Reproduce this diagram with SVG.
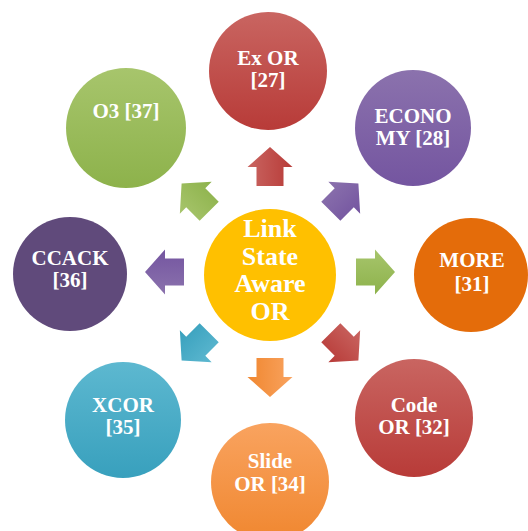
<svg xmlns="http://www.w3.org/2000/svg" width="528" height="531" viewBox="0 0 528 531">
  <defs>
    <linearGradient id="gRed" x1="0" y1="0" x2="0" y2="1">
      <stop offset="0" stop-color="#c96561"/>
      <stop offset="1" stop-color="#b83b38"/>
    </linearGradient>
    <linearGradient id="gPurple" x1="0" y1="0" x2="0" y2="1">
      <stop offset="0" stop-color="#8b72ad"/>
      <stop offset="1" stop-color="#7455a0"/>
    </linearGradient>
    <linearGradient id="gGreen" x1="0" y1="0" x2="0" y2="1">
      <stop offset="0" stop-color="#a7c56c"/>
      <stop offset="1" stop-color="#8db24b"/>
    </linearGradient>
    <linearGradient id="gOrange" x1="0" y1="0" x2="0" y2="1">
      <stop offset="0" stop-color="#f9a35f"/>
      <stop offset="1" stop-color="#f08730"/>
    </linearGradient>
    <linearGradient id="gBlue" x1="0" y1="0" x2="0" y2="1">
      <stop offset="0" stop-color="#5db8d0"/>
      <stop offset="1" stop-color="#38a0bd"/>
    </linearGradient>
    <!-- block arrow pointing along +x, offset from the hub -->
    <path id="arw" d="M86,-13.5 L105,-13.5 L105,-22.5 L125,0 L105,22.5 L105,13.5 L86,13.5 Z"/>
    <style>
      .lbl { font-family: "Liberation Serif", "Times New Roman", serif; font-weight: bold; fill: #ffffff; text-anchor: middle; }
      .sm { font-size: 21px; }
      .big { font-size: 26px; }
    </style>
  </defs>

  <rect width="528" height="531" fill="#ffffff"/>

  <!-- connectors: block arrows radiating from the hub -->
  <g id="connectors" transform="translate(270,272)">
    <g transform="rotate(-90)"><use href="#arw" fill="url(#gRed)"/></g>
    <g transform="rotate(-45)"><use href="#arw" fill="url(#gPurple)"/></g>
    <g transform="rotate(0)"><use href="#arw" fill="url(#gGreen)"/></g>
    <g transform="rotate(45)"><use href="#arw" fill="url(#gRed)"/></g>
    <g transform="rotate(90)"><use href="#arw" fill="url(#gOrange)"/></g>
    <g transform="rotate(135)"><use href="#arw" fill="url(#gBlue)"/></g>
    <g transform="rotate(180)"><use href="#arw" fill="url(#gPurple)"/></g>
    <g transform="rotate(-135)"><use href="#arw" fill="url(#gGreen)"/></g>
  </g>

  <g id="hub">
    <circle cx="270" cy="275" r="66" fill="#ffc000"/>
    <text class="lbl big" x="270" y="237">Link</text>
    <text class="lbl big" x="270" y="265">State</text>
    <text class="lbl big" x="270" y="292">Aware</text>
    <text class="lbl big" x="270" y="320">OR</text>
  </g>

  <g id="exor">
    <circle cx="268" cy="71" r="59" fill="url(#gRed)"/>
    <text class="lbl sm" x="268" y="65">Ex OR</text>
    <text class="lbl sm" x="268" y="87">[27]</text>
  </g>

  <g id="economy">
    <circle cx="413" cy="128" r="58" fill="url(#gPurple)"/>
    <text class="lbl sm" x="413" y="123">ECONO</text>
    <text class="lbl sm" x="413" y="145">MY [28]</text>
  </g>

  <g id="more">
    <circle cx="471" cy="275" r="57" fill="#e46c0a"/>
    <text class="lbl sm" x="472" y="267">MORE</text>
    <text class="lbl sm" x="472" y="291">[31]</text>
  </g>

  <g id="codeor">
    <circle cx="414" cy="418" r="59" fill="url(#gRed)"/>
    <text class="lbl sm" x="414" y="412">Code</text>
    <text class="lbl sm" x="414" y="434">OR [32]</text>
  </g>

  <g id="slideor">
    <circle cx="270" cy="482" r="59" fill="url(#gOrange)"/>
    <text class="lbl sm" x="270" y="468">Slide</text>
    <text class="lbl sm" x="270" y="491">OR [34]</text>
  </g>

  <g id="xcor">
    <circle cx="123" cy="420" r="58" fill="url(#gBlue)"/>
    <text class="lbl sm" x="123" y="412">XCOR</text>
    <text class="lbl sm" x="123" y="434">[35]</text>
  </g>

  <g id="ccack">
    <circle cx="70" cy="274" r="57" fill="#604a7b"/>
    <text class="lbl sm" x="70" y="265">CCACK</text>
    <text class="lbl sm" x="70" y="287">[36]</text>
  </g>

  <g id="o3">
    <circle cx="126" cy="128" r="60" fill="url(#gGreen)"/>
    <text class="lbl sm" x="126" y="118">O3 [37]</text>
  </g>
</svg>
